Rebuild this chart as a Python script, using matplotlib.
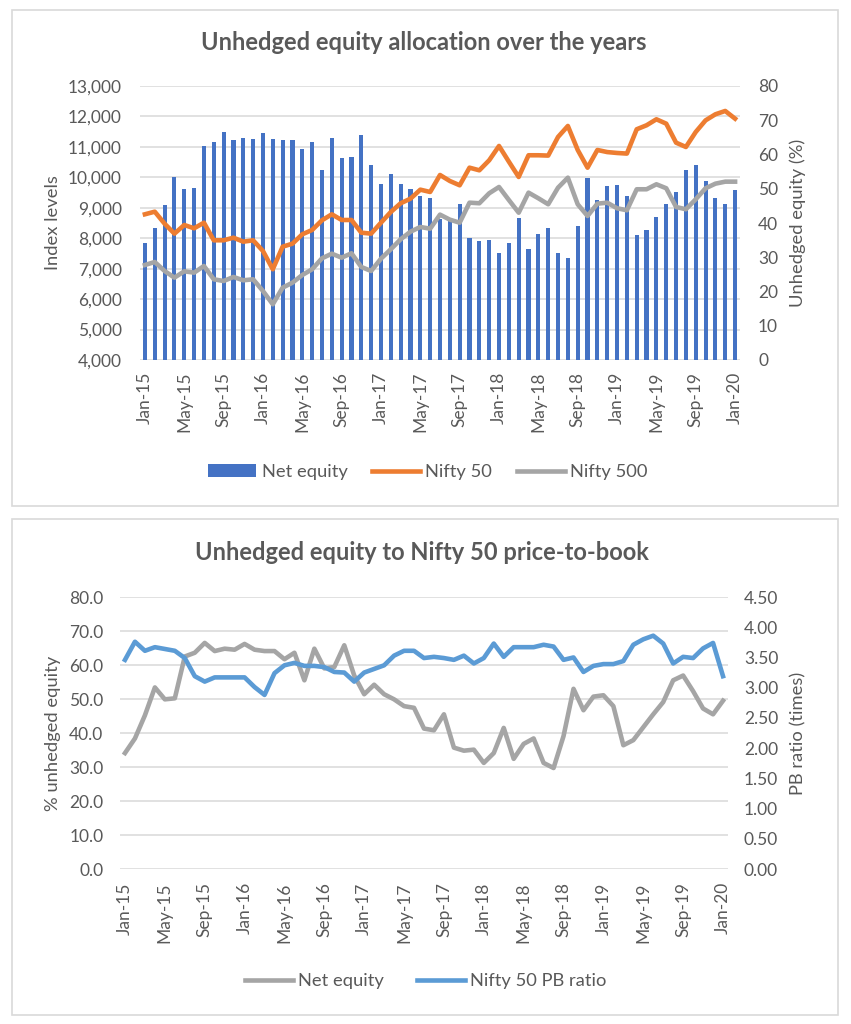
import matplotlib
matplotlib.use('Agg')
import matplotlib.pyplot as plt
from matplotlib.patches import Rectangle
import numpy as np
import pandas as pd

# ---------------- data ----------------
months = pd.date_range('2015-01-01', periods=61, freq='MS').strftime('%b-%y').tolist()
tick_labels = ['Jan-15', 'May-15', 'Sep-15', 'Jan-16', 'May-16', 'Sep-16', 'Jan-17', 'May-17',
               'Sep-17', 'Jan-18', 'May-18', 'Sep-18', 'Jan-19', 'May-19', 'Sep-19', 'Jan-20']

net_equity = [34.1, 38.4, 45.2, 53.4, 49.9, 50.2, 62.5, 63.6, 66.5, 64.1,
              64.8, 64.5, 66.2, 64.5, 64.1, 64.1, 61.7, 63.6, 55.5, 64.8,
              59.0, 59.4, 65.8, 56.9, 51.4, 54.2, 51.4, 49.9, 47.9, 47.4,
              41.3, 40.8, 45.5, 35.7, 34.8, 35.1, 31.2, 34.1, 41.5, 32.4,
              36.8, 38.4, 31.2, 29.7, 39.1, 53.0, 46.7, 50.7, 51.1, 47.9,
              36.4, 37.9, 41.7, 45.5, 49.1, 55.5, 56.9, 52.3, 47.2, 45.5,
              49.5]

nifty50 = [8786, 8872, 8478, 8150, 8435, 8326, 8510, 7932, 7932, 8018,
           7886, 7932, 7581, 6980, 7722, 7821, 8129, 8271, 8589, 8786,
           8599, 8599, 8182, 8150, 8510, 8862, 9148, 9299, 9595, 9519,
           10077, 9880, 9739, 10317, 10231, 10560, 11030, 10515, 10012, 10725,
           10725, 10714, 11326, 11687, 10899, 10317, 10899, 10830, 10800, 10780,
           11579, 11710, 11907, 11763, 11139, 10997, 11490, 11872, 12071, 12180,
           11927]

nifty500 = [7121, 7219, 6924, 6705, 6913, 6869, 7088, 6651, 6595, 6727,
            6618, 6651, 6267, 5830, 6376, 6540, 6792, 6979, 7340, 7492,
            7361, 7505, 7055, 6924, 7328, 7637, 7965, 8215, 8369, 8313,
            8775, 8610, 8510, 9168, 9148, 9476, 9683, 9256, 8839, 9497,
            9312, 9115, 9660, 9989, 9115, 8730, 9135, 9168, 8984, 8918,
            9608, 9608, 9772, 9641, 9026, 8951, 9279, 9641, 9792, 9858,
            9858]

pb_ratio = [3.46, 3.76, 3.61, 3.67, 3.64, 3.61, 3.49, 3.19, 3.10, 3.17,
            3.17, 3.17, 3.17, 3.01, 2.88, 3.24, 3.37, 3.41, 3.36, 3.36,
            3.34, 3.26, 3.25, 3.10, 3.25, 3.31, 3.37, 3.53, 3.61, 3.61,
            3.49, 3.51, 3.49, 3.46, 3.53, 3.40, 3.49, 3.73, 3.51, 3.67,
            3.67, 3.67, 3.71, 3.68, 3.46, 3.50, 3.26, 3.36, 3.39, 3.39,
            3.44, 3.71, 3.80, 3.86, 3.73, 3.40, 3.51, 3.49, 3.65, 3.74,
            3.19]

# ---------------- style ----------------
plt.rcParams['font.family'] = ['Lato', 'DejaVu Sans']
TXT = '#595959'
GRID = '#D9D9D9'
BLUE_BAR = '#4472C4'
ORANGE = '#ED7D31'
GREY = '#A5A5A5'
BLUE_LINE = '#5B9BD5'
FS = 12.5
LFS = 13.2
TFS = 17

W, H = 851, 1024
fig = plt.figure(figsize=(W / 100, H / 100), dpi=100)


def fx(px):
    return px / W


def fy(py):
    return 1 - py / H


# panel frames
for (x0, y0, x1, y1) in [(12, 10, 838, 506), (12, 519, 838, 1015)]:
    fig.patches.append(Rectangle((fx(x0), fy(y1)), (x1 - x0) / W, (y1 - y0) / H,
                                 transform=fig.transFigure, fill=False,
                                 edgecolor=GRID, lw=1.2))

x = np.arange(len(months))
tick_pos = [months.index(t) for t in tick_labels]


def clean(ax):
    for s in ax.spines.values():
        s.set_visible(False)


# ---------------- top chart ----------------
axB = fig.add_axes([fx(140), fy(360), 600 / W, 274 / H])
axL = axB.twinx()
axB.set_ylim(0, 80)
axL.set_ylim(4000, 13000)
axB.set_xlim(-0.5, 60.5)

for v in range(4000, 13001, 1000):
    axB.axhline((v - 4000) / 9000 * 80, color=GRID, lw=1.1, zorder=0)

axB.bar(x, net_equity, width=0.42, color=BLUE_BAR, zorder=2, label='Net equity')
axL.plot(x, nifty50, color=ORANGE, lw=3.3, label='Nifty 50', solid_joinstyle='round')
axL.plot(x, nifty500, color=GREY, lw=3.3, label='Nifty 500', solid_joinstyle='round')

axB.yaxis.tick_right()
axB.set_yticks(range(0, 81, 10))
axB.tick_params(axis='y', length=0, pad=13, labelsize=FS, colors=TXT)
axL.yaxis.tick_left()
axL.set_yticks(range(4000, 13001, 1000))
axL.set_yticklabels([f'{v:,}' for v in range(4000, 13001, 1000)])
axL.tick_params(axis='y', length=0, pad=13, labelsize=FS, colors=TXT)
axB.set_xticks(tick_pos)
axB.set_xticklabels(tick_labels, rotation=90)
axB.tick_params(axis='x', length=0, pad=8.5, labelsize=FS, colors=TXT)
clean(axB)
clean(axL)

fig.text(fx(424), fy(43), 'Unhedged equity allocation over the years', ha='center',
         va='center', fontsize=TFS, fontweight='bold', color=TXT)
fig.text(fx(53), fy(223), 'Index levels', rotation=90, ha='center', va='center',
         fontsize=LFS, color=TXT)
fig.text(fx(798), fy(223), 'Unhedged equity (%)', rotation=90, ha='center', va='center',
         fontsize=LFS, color=TXT)

h1, l1 = axB.get_legend_handles_labels()
h2, l2 = axL.get_legend_handles_labels()
fig.legend(h1 + h2, l1 + l2, loc='center', bbox_to_anchor=(fx(428), fy(472)), ncol=3,
           frameon=False, fontsize=LFS, labelcolor=TXT, handlelength=2.6,
           handletextpad=0.3, columnspacing=1.35)

# ---------------- bottom chart ----------------
ax3 = fig.add_axes([fx(120), fy(869), 608 / W, 272 / H])
ax4 = ax3.twinx()
ax3.set_ylim(0, 80)
ax4.set_ylim(0, 4.5)
ax3.set_xlim(-0.5, 60.5)
ax3.set_yticks(range(0, 81, 10))
ax3.set_yticklabels([f'{v:.1f}' for v in range(0, 81, 10)])
ax3.grid(axis='y', color=GRID, lw=1.1)
ax3.set_axisbelow(True)
ax4.set_yticks(np.arange(0, 4.51, 0.5))
ax4.set_yticklabels([f'{v:.2f}' for v in np.arange(0, 4.51, 0.5)])

ax3.plot(x, net_equity, color=GREY, lw=3.3, label='Net equity', solid_joinstyle='round')
ax4.plot(x, pb_ratio, color=BLUE_LINE, lw=3.3, label='Nifty 50 PB ratio', solid_joinstyle='round')

ax3.set_xticks(tick_pos)
ax3.set_xticklabels(tick_labels, rotation=90)
ax3.tick_params(axis='x', length=0, pad=9.5, labelsize=FS, colors=TXT)
ax3.tick_params(axis='y', length=0, pad=12, labelsize=FS, colors=TXT)
ax4.tick_params(axis='y', length=0, pad=11.5, labelsize=FS, colors=TXT)
clean(ax3)
clean(ax4)

fig.text(fx(422), fy(553), 'Unhedged equity to Nifty 50 price-to-book', ha='center',
         va='center', fontsize=TFS, fontweight='bold', color=TXT)
fig.text(fx(53), fy(733), '% unhedged equity', rotation=90, ha='center', va='center',
         fontsize=LFS, color=TXT)
fig.text(fx(798), fy(733), 'PB ratio (times)', rotation=90, ha='center', va='center',
         fontsize=LFS, color=TXT)

h3, l3 = ax3.get_legend_handles_labels()
h4, l4 = ax4.get_legend_handles_labels()
fig.legend(h3 + h4, l3 + l4, loc='center', bbox_to_anchor=(fx(426), fy(981)), ncol=2,
           frameon=False, fontsize=LFS, labelcolor=TXT, handlelength=2.6,
           handletextpad=0.3, columnspacing=1.8)

fig.savefig('out.png', dpi=100, facecolor='white')
